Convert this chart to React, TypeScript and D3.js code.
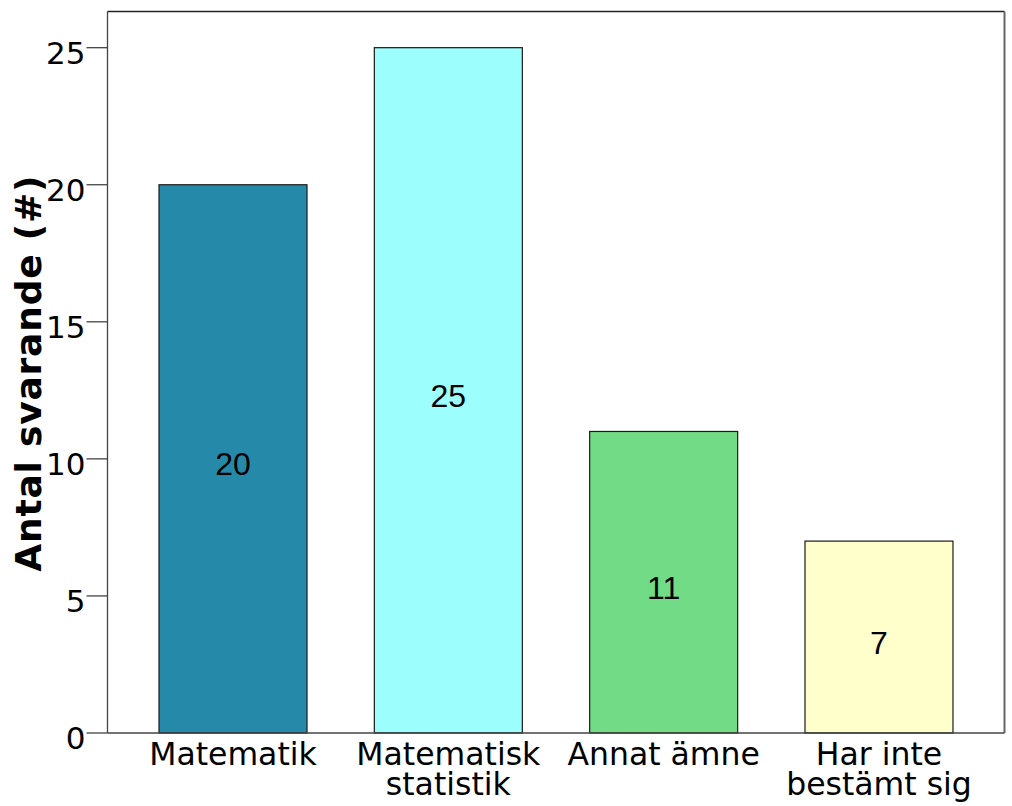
import React from "react";
import * as d3 from "d3";

const categories: string[][] = [
  ["Matematik"],
  ["Matematisk", "statistik"],
  ["Annat ämne"],
  ["Har inte", "bestämt sig"],
];
const values: number[] = [20, 25, 11, 7];
const colors: string[] = ["#258aa9", "#9dfefe", "#71dc85", "#ffffcc"];
const yTicks: number[] = [0, 5, 10, 15, 20, 25];
const yTitle = "Antal svarande (#)";

const W = 1012;
const H = 806;
const left = 107.5;
const right = 1004.5;
const top = 11.5;
const bottom = 733;
const font = "'DejaVu Sans', Verdana, sans-serif";
const labelFont = "'Liberation Sans', Arial, sans-serif";

export default function App() {
  const x = d3
    .scaleBand<number>()
    .domain(values.map((_, i) => i))
    .range([left, right])
    .paddingInner(0.3127)
    .paddingOuter(0.2392);
  const y = d3.scaleLinear().domain([0, 26.32]).range([bottom, top]);

  return (
    <svg
      width={W}
      height={H}
      style={{ position: "absolute", left: 0, top: 0, background: "#fff" }}
    >
      <rect x={0} y={0} width={W} height={H} fill="#fff" />
      {values.map((v, i) => (
        <g key={i}>
          <rect
            x={x(i)!}
            y={y(v)}
            width={x.bandwidth()}
            height={y(0) - y(v)}
            fill={colors[i]}
            stroke="#1a1a1a"
            strokeWidth={1.2}
          />
          <text
            x={x(i)! + x.bandwidth() / 2}
            y={y(v / 2) + 5}
            dy="0.36em"
            textAnchor="middle"
            fontFamily={labelFont}
            fontSize={32}
            fill="#000"
          >
            {v}
          </text>
        </g>
      ))}
      <line x1={left} x2={right} y1={top} y2={top} stroke="#222" strokeWidth={1.3} />
      <line x1={right} x2={right} y1={top} y2={bottom} stroke="#666" strokeWidth={2} />
      <line x1={left} x2={left} y1={top} y2={bottom} stroke="#444" strokeWidth={1.3} />
      <line x1={left} x2={right} y1={bottom} y2={bottom} stroke="#444" strokeWidth={1.5} />
      {yTicks.map((t) => (
        <g key={t}>
          <line x1={left - 21} x2={left} y1={y(t)} y2={y(t)} stroke="#444" strokeWidth={1.3} />
          <text
            x={left - 22}
            y={y(t) + 5}
            dy="0.36em"
            textAnchor="end"
            fontFamily={font}
            fontSize={31}
            fill="#000"
          >
            {t}
          </text>
        </g>
      ))}
      {categories.map((lines, i) => (
        <text
          key={i}
          x={x(i)! + x.bandwidth() / 2}
          y={765}
          textAnchor="middle"
          fontFamily={font}
          fontSize={31.5}
          fill="#000"
        >
          {lines.map((l, j) => (
            <tspan key={j} x={x(i)! + x.bandwidth() / 2} dy={j === 0 ? 0 : 30}>
              {l}
            </tspan>
          ))}
        </text>
      ))}
      <text
        transform={`translate(41, ${(top + bottom) / 2 + 1}) rotate(-90)`}
        textAnchor="middle"
        fontFamily={font}
        fontWeight="bold"
        fontSize={36}
        letterSpacing={0.8}
        fill="#000"
      >
        {yTitle}
      </text>
    </svg>
  );
}
